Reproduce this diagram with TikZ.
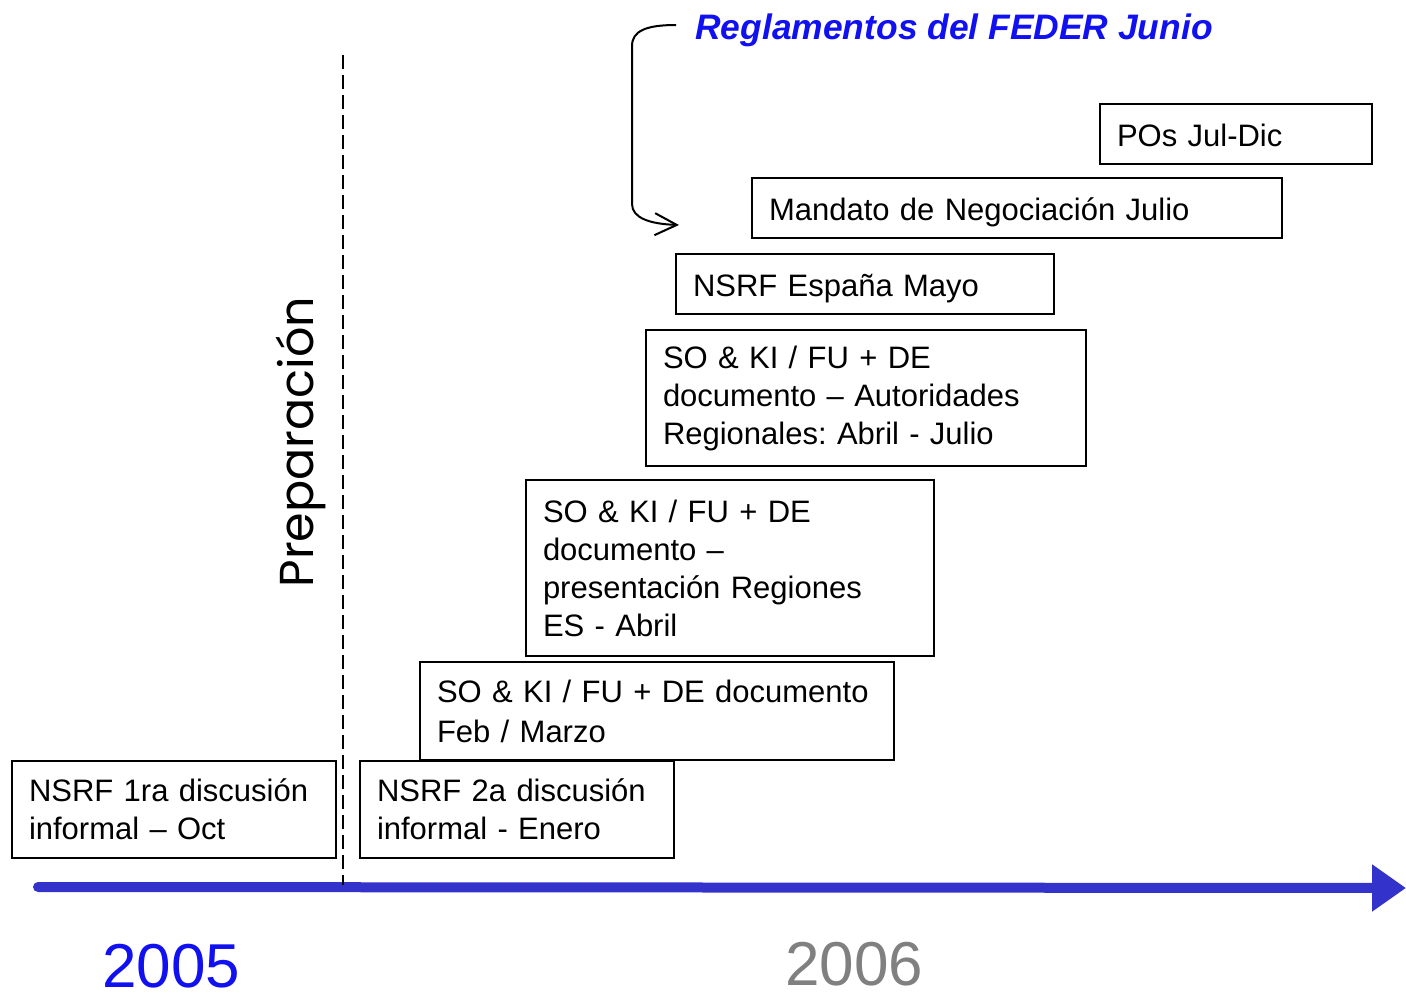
\documentclass[tikz,border=0pt]{standalone}
\usepackage{fontspec}
\setmainfont{Liberation Sans}
\newfontfamily\prepfont{Poppins}
\usetikzlibrary{arrows.meta}
\definecolor{tlblue}{RGB}{51,51,204}
\definecolor{titleblue}{RGB}{16,16,240}
\definecolor{yeargray}{RGB}{128,128,128}
\frenchspacing
\tikzset{
  stagebox/.style={draw, line width=1pt, anchor=north west, inner xsep=8.5pt, inner ysep=0pt,
    align=left, font=\fontsize{15.5pt}{19pt}\selectfont},
  onelinebox/.style={stagebox, minimum height=30pt, text height=14.5pt, text depth=2pt},
  yearlabel/.style={anchor=base west, inner sep=0pt, text depth=0pt, font=\fontsize{31pt}{36pt}\selectfont},
}
\begin{document}
\begin{tikzpicture}[x=0.5pt,y=-0.5pt]
\useasboundingbox (0,0) rectangle (1406,995);

% timeline
\coordinate (tlstart) at (38,887);
\coordinate (tlend) at (1406,888);
\draw[tlblue, line width=5pt, line cap=round, -{Triangle[length=17pt,width=22.5pt]}] (tlstart) -- (tlend);

% dashed separator
\coordinate (dtop) at (343,55);
\coordinate (dbot) at (343,885);
\draw[line width=0.8pt, dash pattern=on 7pt off 3pt] (dtop) -- (dbot);

% Preparacion
\node (prep) [rotate=90, anchor=base, inner sep=0pt, font=\prepfont\fontsize{23.8pt}{27pt}\selectfont] at (313,442) {Preparación};

% boxes
\node (b1) [stagebox, minimum width=162pt, minimum height=48.5pt, text width=145pt] at (11,760) {NSRF 1ra discusión\\informal – Oct};
\node (b2) [stagebox, minimum width=157pt, minimum height=48.5pt, text width=140pt] at (359,760) {NSRF 2a discusión\\informal - Enero};
\node (b3) [stagebox, minimum width=237pt, minimum height=49pt, text width=220pt, font=\fontsize{15.5pt}{20pt}\selectfont] at (419,661) {SO \& KI / FU + DE documento\\Feb / Marzo};
\node (b4) [stagebox, minimum width=204pt, minimum height=88pt, text width=187pt] at (525,479) {SO \& KI / FU + DE\\documento –\\presentación Regiones\\ES - Abril};
\node (b5) [stagebox, minimum width=220pt, minimum height=68pt, text width=203pt] at (645,329) {SO \& KI / FU + DE\\documento – Autoridades\\Regionales: Abril - Julio};
\node (b6) [onelinebox, minimum width=189pt, text width=172pt] at (675,253) {NSRF España Mayo};
\node (b7) [onelinebox, minimum width=265pt, text width=248pt] at (751,177) {Mandato de Negociación Julio};
\node (b8) [onelinebox, minimum width=136pt, text width=119pt] at (1099,103) {POs Jul-Dic};

% title and curved arrow
\node (title) [anchor=base west, inner sep=0pt, text=titleblue, font=\fontsize{17.7pt}{21pt}\selectfont\bfseries\itshape] at (695,40) {Reglamentos del FEDER Junio};
\coordinate (cstart) at (676,25);
\coordinate (cend) at (679,225);
\draw[line width=1pt, -{Straight Barb[length=11pt,width=11pt]}] (cstart) .. controls (646,25) and (632,31) .. (632,46) -- (632,204) .. controls (632,218) and (650,224) .. (cend);

% years
\node (y2005) [yearlabel, text=titleblue] at (102,987) {2005};
\node (y2006) [yearlabel, text=yeargray] at (785,985) {2006};
\end{tikzpicture}
\end{document}
